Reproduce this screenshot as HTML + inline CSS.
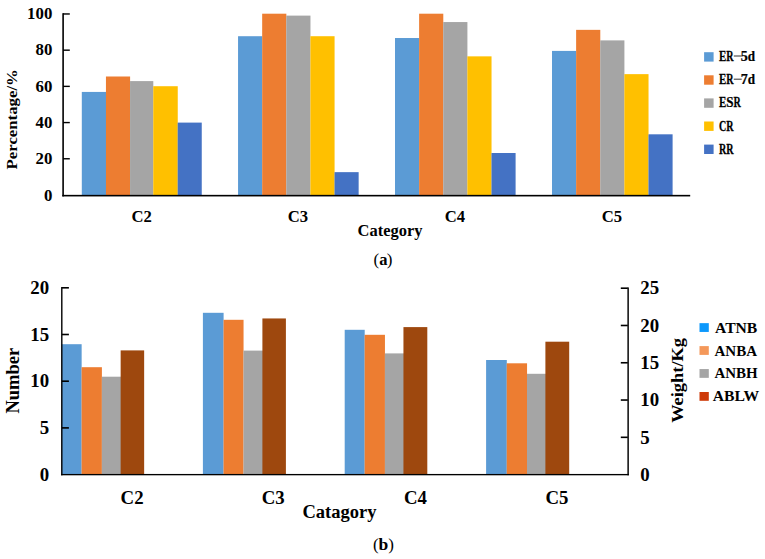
<!DOCTYPE html><html><head><meta charset="utf-8"><title>Figure</title><style>
html,body{margin:0;padding:0;background:#fff;}body{width:765px;height:559px;overflow:hidden;}
svg{display:block;}text{font-family:"Liberation Serif",serif;fill:#000;}
.b{font-weight:bold;}
</style></head><body>
<svg width="765" height="559" viewBox="0 0 765 559">
<rect x="0" y="0" width="765" height="559" fill="#fff"/>
<g id="chartA">
<rect x="81.80" y="91.93" width="24.20" height="103.27" fill="#5B9BD5"/>
<rect x="105.95" y="76.50" width="24.15" height="118.70" fill="#ED7D31"/>
<rect x="130.05" y="81.10" width="23.25" height="114.10" fill="#A5A5A5"/>
<rect x="153.25" y="86.21" width="24.50" height="108.99" fill="#FFC000"/>
<rect x="177.70" y="122.60" width="24.05" height="72.60" fill="#4472C4"/>
<rect x="238.05" y="36.21" width="24.17" height="158.99" fill="#5B9BD5"/>
<rect x="262.17" y="13.70" width="24.17" height="181.50" fill="#ED7D31"/>
<rect x="286.29" y="15.61" width="24.17" height="179.59" fill="#A5A5A5"/>
<rect x="310.41" y="36.21" width="24.17" height="158.99" fill="#FFC000"/>
<rect x="334.53" y="172.15" width="24.12" height="23.05" fill="#4472C4"/>
<rect x="395.00" y="38.02" width="24.17" height="157.18" fill="#5B9BD5"/>
<rect x="419.12" y="13.70" width="24.17" height="181.50" fill="#ED7D31"/>
<rect x="443.24" y="22.05" width="24.17" height="173.15" fill="#A5A5A5"/>
<rect x="467.36" y="56.35" width="24.17" height="138.85" fill="#FFC000"/>
<rect x="491.48" y="153.00" width="24.12" height="42.20" fill="#4472C4"/>
<rect x="552.00" y="50.91" width="24.17" height="144.29" fill="#5B9BD5"/>
<rect x="576.12" y="29.85" width="24.17" height="165.35" fill="#ED7D31"/>
<rect x="600.24" y="40.38" width="24.17" height="154.82" fill="#A5A5A5"/>
<rect x="624.36" y="74.14" width="24.17" height="121.06" fill="#FFC000"/>
<rect x="648.48" y="134.31" width="24.12" height="60.89" fill="#4472C4"/>
<rect x="62.3" y="13.2" width="1.6" height="183.2" fill="#000"/>
<rect x="62.3" y="194.85" width="627.9" height="1.6" fill="#000"/>
<rect x="63" y="13.27" width="6.8" height="1.4" fill="#000"/>
<text class="b" transform="translate(52.3,19.00) scale(1.05,1)" font-size="16" text-anchor="end">100</text>
<rect x="63" y="49.47" width="6.8" height="1.4" fill="#000"/>
<text class="b" transform="translate(52.3,55.30) scale(1.05,1)" font-size="16" text-anchor="end">80</text>
<rect x="63" y="85.67" width="6.8" height="1.4" fill="#000"/>
<text class="b" transform="translate(52.3,91.60) scale(1.05,1)" font-size="16" text-anchor="end">60</text>
<rect x="63" y="121.87" width="6.8" height="1.4" fill="#000"/>
<text class="b" transform="translate(52.3,127.90) scale(1.05,1)" font-size="16" text-anchor="end">40</text>
<rect x="63" y="158.07" width="6.8" height="1.4" fill="#000"/>
<text class="b" transform="translate(52.3,164.20) scale(1.05,1)" font-size="16" text-anchor="end">20</text>
<text class="b" transform="translate(52.3,200.50) scale(1.05,1)" font-size="16" text-anchor="end">0</text>
<text class="b" transform="translate(141.7,221.6) scale(1.04,1)" font-size="16" text-anchor="middle">C2</text>
<text class="b" transform="translate(297.9,221.6) scale(1.04,1)" font-size="16" text-anchor="middle">C3</text>
<text class="b" transform="translate(454.8,221.6) scale(1.04,1)" font-size="16" text-anchor="middle">C4</text>
<text class="b" transform="translate(611.8,221.6) scale(1.04,1)" font-size="16" text-anchor="middle">C5</text>
<text class="b" x="357.6" y="235.6" font-size="16.5" textLength="64.8" lengthAdjust="spacingAndGlyphs">Category</text>
<text class="b" transform="translate(17.1,169.4) rotate(-90)" font-size="15.4" textLength="100.2" lengthAdjust="spacingAndGlyphs">Percentage/%</text>
<rect x="704.1" y="52.20" width="9.5" height="9.4" fill="#5B9BD5"/>
<text class="b" transform="translate(722.70,60.95) scale(0.771,1)" font-size="14.2" text-anchor="middle" stroke="#000" stroke-width="0.25">E</text>
<text class="b" transform="translate(729.90,60.95) scale(0.712,1)" font-size="14.2" text-anchor="middle" stroke="#000" stroke-width="0.25">R</text>
<rect x="733.80" y="55.45" width="7.9" height="1.1" fill="#444"/>
<text class="b" transform="translate(744.30,60.95) scale(0.990,1)" font-size="14.2" text-anchor="middle" stroke="#000" stroke-width="0.25">5</text>
<text class="b" transform="translate(751.50,60.95) scale(0.925,1)" font-size="14.2" text-anchor="middle" stroke="#000" stroke-width="0.25">d</text>
<rect x="704.1" y="75.30" width="9.5" height="9.4" fill="#ED7D31"/>
<text class="b" transform="translate(722.70,84.15) scale(0.771,1)" font-size="14.2" text-anchor="middle" stroke="#000" stroke-width="0.25">E</text>
<text class="b" transform="translate(729.90,84.15) scale(0.712,1)" font-size="14.2" text-anchor="middle" stroke="#000" stroke-width="0.25">R</text>
<rect x="733.80" y="78.65" width="7.9" height="1.1" fill="#444"/>
<text class="b" transform="translate(744.30,84.15) scale(0.990,1)" font-size="14.2" text-anchor="middle" stroke="#000" stroke-width="0.25">7</text>
<text class="b" transform="translate(751.50,84.15) scale(0.925,1)" font-size="14.2" text-anchor="middle" stroke="#000" stroke-width="0.25">d</text>
<rect x="704.1" y="98.40" width="9.5" height="9.4" fill="#A5A5A5"/>
<text class="b" transform="translate(722.70,107.35) scale(0.771,1)" font-size="14.2" text-anchor="middle" stroke="#000" stroke-width="0.25">E</text>
<text class="b" transform="translate(729.90,107.35) scale(0.925,1)" font-size="14.2" text-anchor="middle" stroke="#000" stroke-width="0.25">S</text>
<text class="b" transform="translate(737.10,107.35) scale(0.712,1)" font-size="14.2" text-anchor="middle" stroke="#000" stroke-width="0.25">R</text>
<rect x="704.1" y="121.50" width="9.5" height="9.4" fill="#FFC000"/>
<text class="b" transform="translate(722.70,130.55) scale(0.712,1)" font-size="14.2" text-anchor="middle" stroke="#000" stroke-width="0.25">C</text>
<text class="b" transform="translate(729.90,130.55) scale(0.712,1)" font-size="14.2" text-anchor="middle" stroke="#000" stroke-width="0.25">R</text>
<rect x="704.1" y="144.60" width="9.5" height="9.4" fill="#4472C4"/>
<text class="b" transform="translate(722.70,153.75) scale(0.712,1)" font-size="14.2" text-anchor="middle" stroke="#000" stroke-width="0.25">R</text>
<text class="b" transform="translate(729.90,153.75) scale(0.712,1)" font-size="14.2" text-anchor="middle" stroke="#000" stroke-width="0.25">R</text>
<text x="373.6" y="265.0" font-size="17">(<tspan class="b" font-size="16.5">a</tspan><tspan dx="-0.7">)</tspan></text>
</g>
<g id="chartB">
<rect x="61.60" y="344.20" width="20.05" height="130.40" fill="#5B9BD5"/>
<rect x="81.60" y="367.20" width="20.30" height="107.40" fill="#ED7D31"/>
<rect x="101.85" y="376.70" width="20.15" height="97.90" fill="#A5A5A5"/>
<rect x="120.65" y="350.40" width="23.50" height="124.20" fill="#9E480E"/>
<rect x="202.90" y="312.80" width="20.70" height="161.80" fill="#5B9BD5"/>
<rect x="223.55" y="319.80" width="20.00" height="154.80" fill="#ED7D31"/>
<rect x="243.50" y="350.60" width="20.00" height="124.00" fill="#A5A5A5"/>
<rect x="262.40" y="318.45" width="23.50" height="156.15" fill="#9E480E"/>
<rect x="344.70" y="329.80" width="20.00" height="144.80" fill="#5B9BD5"/>
<rect x="364.65" y="334.80" width="20.30" height="139.80" fill="#ED7D31"/>
<rect x="384.90" y="353.40" width="19.60" height="121.20" fill="#A5A5A5"/>
<rect x="403.45" y="327.10" width="23.85" height="147.50" fill="#9E480E"/>
<rect x="486.10" y="360.00" width="20.70" height="114.60" fill="#5B9BD5"/>
<rect x="506.75" y="363.30" width="20.30" height="111.30" fill="#ED7D31"/>
<rect x="527.00" y="373.80" width="19.50" height="100.80" fill="#A5A5A5"/>
<rect x="545.40" y="341.70" width="23.80" height="132.90" fill="#9E480E"/>
<rect x="61.1" y="287" width="1.4" height="188.3" fill="#000"/>
<rect x="61.1" y="473.95" width="567.75" height="1.35" fill="#000"/>
<rect x="627.4" y="287.4" width="1.45" height="187.9" fill="#000"/>
<rect x="62" y="287.00" width="6.9" height="1.6" fill="#000"/>
<text class="b" transform="translate(49.2,294.00) scale(1.06,1)" font-size="17.8" text-anchor="end">20</text>
<rect x="62" y="333.70" width="6.9" height="1.6" fill="#000"/>
<text class="b" transform="translate(49.2,340.70) scale(1.06,1)" font-size="17.8" text-anchor="end">15</text>
<rect x="62" y="380.40" width="6.9" height="1.6" fill="#000"/>
<text class="b" transform="translate(49.2,387.40) scale(1.06,1)" font-size="17.8" text-anchor="end">10</text>
<rect x="62" y="427.10" width="6.9" height="1.6" fill="#000"/>
<text class="b" transform="translate(49.2,434.10) scale(1.06,1)" font-size="17.8" text-anchor="end">5</text>
<text class="b" transform="translate(49.2,480.80) scale(1.06,1)" font-size="17.8" text-anchor="end">0</text>
<rect x="620.8" y="287.40" width="7" height="1.6" fill="#000"/>
<text class="b" transform="translate(640.2,294.40) scale(1.06,1)" font-size="17.8" text-anchor="start">25</text>
<rect x="620.8" y="324.68" width="7" height="1.6" fill="#000"/>
<text class="b" transform="translate(640.2,331.68) scale(1.06,1)" font-size="17.8" text-anchor="start">20</text>
<rect x="620.8" y="361.96" width="7" height="1.6" fill="#000"/>
<text class="b" transform="translate(640.2,368.96) scale(1.06,1)" font-size="17.8" text-anchor="start">15</text>
<rect x="620.8" y="399.24" width="7" height="1.6" fill="#000"/>
<text class="b" transform="translate(640.2,406.24) scale(1.06,1)" font-size="17.8" text-anchor="start">10</text>
<rect x="620.8" y="436.52" width="7" height="1.6" fill="#000"/>
<text class="b" transform="translate(640.2,443.52) scale(1.06,1)" font-size="17.8" text-anchor="start">5</text>
<text class="b" transform="translate(640.2,480.80) scale(1.06,1)" font-size="17.8" text-anchor="start">0</text>
<text class="b" transform="translate(132.1,503.8) scale(1.045,1)" font-size="18" text-anchor="middle">C2</text>
<text class="b" transform="translate(273.2,503.8) scale(1.045,1)" font-size="18" text-anchor="middle">C3</text>
<text class="b" transform="translate(415.5,503.8) scale(1.045,1)" font-size="18" text-anchor="middle">C4</text>
<text class="b" transform="translate(557.0,503.8) scale(1.045,1)" font-size="18" text-anchor="middle">C5</text>
<text class="b" x="302.4" y="518.2" font-size="18.5" textLength="74.1" lengthAdjust="spacingAndGlyphs">Catagory</text>
<text class="b" transform="translate(18.6,413.6) rotate(-90)" font-size="18" textLength="65.7" lengthAdjust="spacingAndGlyphs">Number</text>
<text class="b" transform="translate(683.2,422.8) rotate(-90)" font-size="17.6" textLength="84.8" lengthAdjust="spacingAndGlyphs">Weight/Kg</text>
<rect x="699.5" y="323.15" width="9.3" height="8.8" fill="#0C98FC"/>
<text class="b" x="715.0" y="332.95" font-size="15" textLength="42.3" lengthAdjust="spacingAndGlyphs">ATNB</text>
<rect x="699.5" y="346.10" width="9.3" height="8.8" fill="#F4985A"/>
<text class="b" x="714.5" y="355.53" font-size="15" textLength="42.6" lengthAdjust="spacingAndGlyphs">ANBA</text>
<rect x="699.5" y="369.05" width="9.3" height="8.8" fill="#A5A5A5"/>
<text class="b" x="714.5" y="378.11" font-size="15" textLength="43.2" lengthAdjust="spacingAndGlyphs">ANBH</text>
<rect x="699.5" y="392.00" width="9.3" height="8.8" fill="#CE3A08"/>
<text class="b" x="712.7" y="400.69" font-size="15" textLength="46.4" lengthAdjust="spacingAndGlyphs">ABLW</text>
<text x="372.9" y="550.4" font-size="17">(<tspan class="b" font-size="17.5">b</tspan>)</text>
</g>
</svg></body></html>
